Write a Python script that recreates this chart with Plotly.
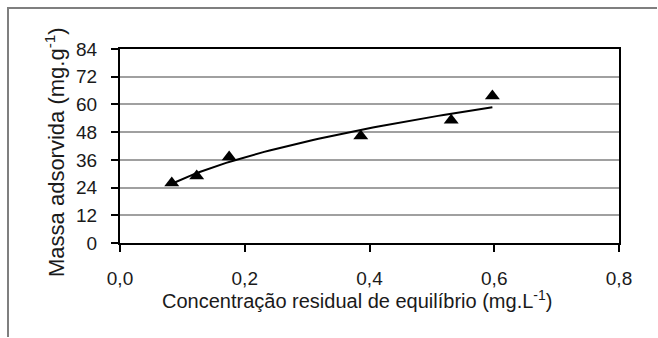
import numpy as np
import plotly.graph_objects as go

# Data
conc = [0.083, 0.123, 0.175, 0.386, 0.531, 0.597]
massa = [26.0, 29.0, 37.2, 46.3, 53.2, 63.6]
y_ticks = [0, 12, 24, 36, 48, 60, 72, 84]
x_ticks = [0.0, 0.2, 0.4, 0.6, 0.8]
x_tick_labels = ["0,0", "0,2", "0,4", "0,6", "0,8"]
x_title = "Concentração residual de equilíbrio (mg.L<sup>-1</sup>)"
y_title = "Massa adsorvida (mg.g<sup>-1</sup>)"

# Power trendline (spreadsheet-style power fit) computed from the data
b, a = np.polyfit(np.log(conc), np.log(massa), 1)
xf = np.linspace(min(conc), max(conc), 60)
yf = np.exp(a) * xf ** b

W, H = 658, 338
L, R, T, B = 120, 619, 49, 243

fig = go.Figure()
fig.add_trace(go.Scatter(x=xf, y=yf, mode="lines",
                         line=dict(color="black", width=2), showlegend=False))
fig.add_trace(go.Scatter(x=conc, y=massa, mode="markers",
                         marker=dict(symbol="triangle-up", size=13, color="black"),
                         showlegend=False))

fam = "Liberation Sans, Arial, sans-serif"

fig.update_layout(
    width=W, height=H,
    margin=dict(l=L, r=W - R, t=T, b=H - B, pad=0),
    paper_bgcolor="white", plot_bgcolor="white",
    font=dict(family=fam, size=19, color="#1a1a1a"),
    xaxis=dict(range=[0, 0.8], tickvals=x_ticks, ticktext=x_tick_labels,
               showgrid=False, zeroline=False, showline=True, linecolor="black",
               linewidth=2, mirror=True, ticks="outside", ticklen=7, tickwidth=2,
               tickcolor="black", tickfont=dict(size=19, family=fam),
               ticklabelstandoff=10),
    yaxis=dict(range=[0, 84], tickvals=y_ticks,
               showgrid=True, gridcolor="#a0a0a0", gridwidth=2,
               zeroline=False, showline=True, linecolor="black",
               linewidth=2, mirror=True, ticks="outside", ticklen=7, tickwidth=2,
               tickcolor="black", tickfont=dict(size=19, family=fam),
               ticklabelstandoff=10),
)

pw, ph = R - L, B - T
def px(xp): return (xp - L) / pw
def py(yp): return (B - yp) / ph

fig.add_annotation(text=x_title, xref="paper", yref="paper",
                   x=px(357), y=py(299), xanchor="center", yanchor="middle",
                   showarrow=False, font=dict(size=20, family=fam, color="#1a1a1a"))
fig.add_annotation(text=y_title, xref="paper", yref="paper", textangle=-90,
                   x=px(55), y=py(152), xanchor="center", yanchor="middle",
                   showarrow=False, font=dict(size=22, family=fam, color="#1a1a1a"))

fig.add_shape(type="line", xref="paper", yref="paper",
              x0=px(7), x1=px(657), y0=py(8), y1=py(8),
              line=dict(color="#7f7f7f", width=2))
fig.add_shape(type="line", xref="paper", yref="paper",
              x0=px(8), x1=px(8), y0=py(7), y1=py(337),
              line=dict(color="#7f7f7f", width=2))

fig.write_html("out.html", config={"displayModeBar": False},
               post_script="document.body.style.margin='0px';")
